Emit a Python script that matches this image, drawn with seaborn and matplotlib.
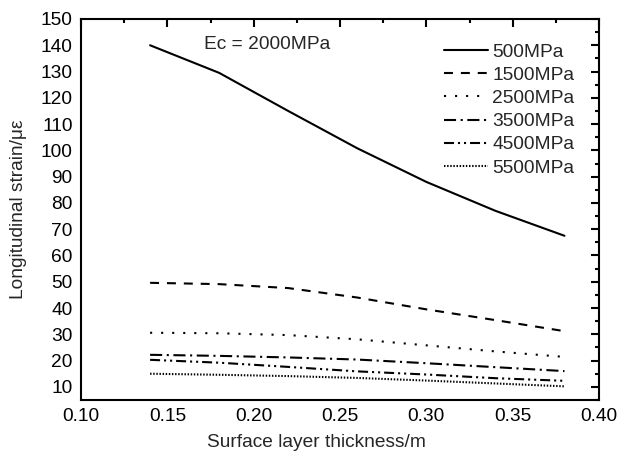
import matplotlib
matplotlib.use("Agg")
import matplotlib.pyplot as plt
import seaborn as sns
import pandas as pd
from matplotlib.ticker import MultipleLocator

thickness = [0.14, 0.18, 0.22, 0.26, 0.30, 0.34, 0.38]
labels = ["500MPa", "1500MPa", "2500MPa", "3500MPa", "4500MPa", "5500MPa"]
s500 = [140.0, 129.5, 115.0, 100.8, 88.0, 77.0, 67.5]
s1500 = [49.6, 49.1, 47.6, 44.0, 39.5, 35.4, 31.2]
s2500 = [30.6, 30.4, 29.7, 28.1, 25.8, 23.5, 21.4]
s3500 = [22.2, 21.8, 21.2, 20.4, 19.0, 17.5, 16.0]
s4500 = [20.3, 19.2, 17.6, 15.9, 14.7, 13.3, 12.3]
s5500 = [15.0, 14.6, 14.1, 13.4, 12.4, 11.3, 10.2]
series = [s500, s1500, s2500, s3500, s4500, s5500]
annotation = "Ec = 2000MPa"
xlabel = "Surface layer thickness/m"
ylabel = "Longitudinal strain/\u03bc\u03b5"

rows = []
for lab, vals in zip(labels, series):
    for x, v in zip(thickness, vals):
        rows.append({"thickness": x, "strain": v, "modulus": lab})
df = pd.DataFrame(rows)

FS = 13.8
sns.set_theme(style="white")
plt.rcParams["font.family"] = ["Liberation Sans", "DejaVu Sans"]
plt.rcParams["font.size"] = FS
plt.rcParams["axes.linewidth"] = 1.5

fig = plt.figure(figsize=(6.3, 4.61), dpi=100)
ax = fig.add_axes([0.1286, 0.1323, 0.8222, 0.8265])

dash_map = {
    "500MPa": "",
    "1500MPa": (4.3, 3.8),
    "2500MPa": (1.0, 4.3),
    "3500MPa": (5.8, 2.2, 1.0, 2.2),
    "4500MPa": (4.8, 1.9, 1.0, 1.9, 1.0, 1.9),
    "5500MPa": (0.7, 0.8),
}
sns.lineplot(data=df, x="thickness", y="strain", style="modulus",
             style_order=labels, dashes=dash_map, color="black",
             linewidth=1.5, errorbar=None, markers=False, ax=ax)

handles, labs = ax.get_legend_handles_labels()
ax.legend(handles, labs, loc="upper left", bbox_to_anchor=(0.700, 0.936),
          frameon=False, fontsize=FS, handlelength=2.3, handletextpad=0.25,
          labelspacing=0.30, borderpad=0, borderaxespad=0)

ax.text(0.237, 0.934, annotation, transform=ax.transAxes, fontsize=FS,
        ha="left", va="center")

ax.set_xlim(0.10, 0.40)
ax.set_ylim(5, 150)
ax.xaxis.set_major_locator(MultipleLocator(0.05))
ax.xaxis.set_minor_locator(MultipleLocator(0.025))
ax.yaxis.set_major_locator(MultipleLocator(10))
ax.yaxis.set_minor_locator(MultipleLocator(5))
ax.xaxis.set_major_formatter(matplotlib.ticker.FormatStrFormatter("%.2f"))
ax.tick_params(which="both", direction="in", top=True, right=True,
               width=1.5, colors="black", labelsize=FS)
ax.tick_params(which="major", length=6, pad=6)
ax.tick_params(which="minor", length=3)
for sp in ax.spines.values():
    sp.set_color("black")
    sp.set_linewidth(1.5)

ax.set_xlabel(xlabel, fontsize=FS)
ax.set_ylabel(ylabel, fontsize=FS)
ax.xaxis.set_label_coords(0.455, -0.09)
ax.yaxis.set_label_coords(-0.105, 0.5)

fig.savefig("out.png", dpi=100)
